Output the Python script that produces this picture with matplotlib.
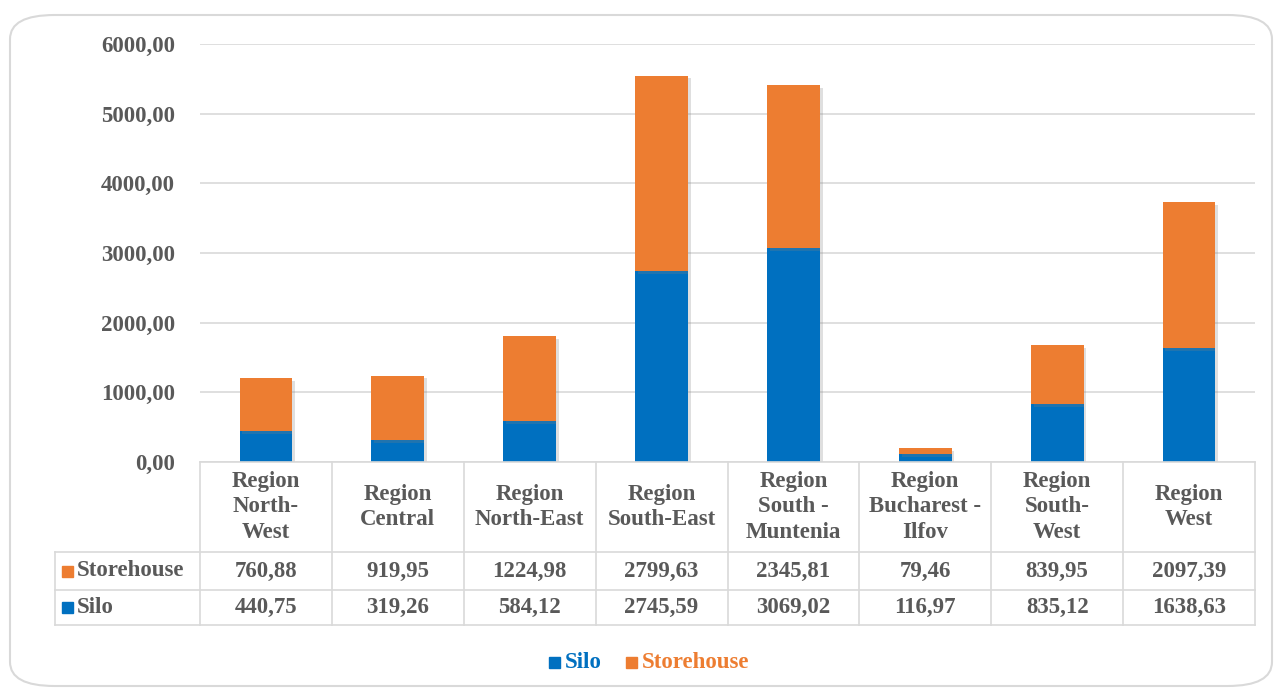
import matplotlib
matplotlib.use("Agg")
import matplotlib.pyplot as plt
import matplotlib.patheffects as pe
from matplotlib.lines import Line2D
from matplotlib.patches import FancyBboxPatch, Rectangle
from matplotlib.transforms import blended_transform_factory
import numpy as np

# data
regions = ["Region\nNorth-\nWest", "Region\nCentral", "Region\nNorth-East",
           "Region\nSouth-East", "Region\nSouth -\nMuntenia",
           "Region\nBucharest -\nIlfov", "Region\nSouth-\nWest", "Region\nWest"]
silo = [440.75, 319.26, 584.12, 2745.59, 3069.02, 116.97, 835.12, 1638.63]
storehouse = [760.88, 919.95, 1224.98, 2799.63, 2345.81, 79.46, 839.95, 2097.39]
yticks = [0, 1000, 2000, 3000, 4000, 5000, 6000]

BLUE = "#0070C0"
ORANGE = "#ED7D31"
TXT = "#595959"
GRID = "#D9D9D9"
W, H = 1274, 688

plt.rcParams['font.family'] = ['Liberation Serif', 'DejaVu Serif']
plt.rcParams['font.weight'] = 'bold'
FS = 16.5


def fx(x):
    return x / W


def fy(y):
    return 1 - y / H


def fmt(v):
    return f"{v:.2f}".replace('.', ',')


fig = plt.figure(figsize=(W / 100, H / 100), dpi=100)

# rounded outer border
fig.add_artist(FancyBboxPatch((fx(10), fy(686)), fx(1262), 671 / H,
                              boxstyle="round,pad=0,rounding_size=0.035",
                              transform=fig.transFigure, fill=False,
                              edgecolor=GRID, lw=1.5))

ax = fig.add_axes([fx(200), fy(462), fx(1055), 418 / H])
x = np.arange(len(regions))
shadow = [pe.SimplePatchShadow(offset=(2, -2), alpha=0.25, shadow_rgbFace='gray'), pe.Normal()]
b1 = ax.bar(x, silo, width=0.4, color=BLUE, zorder=3)
b2 = ax.bar(x, storehouse, width=0.4, bottom=silo, color=ORANGE, zorder=3)
for b in list(b1) + list(b2):
    b.set_path_effects(shadow)

ax.set_xlim(-0.5, len(regions) - 0.5)
ax.set_ylim(0, 6000)
ax.set_yticks(yticks)
ax.set_yticklabels([fmt(v) for v in yticks], color=TXT, fontsize=FS, fontweight='bold')
ax.tick_params(axis='y', length=0, pad=18)
ax.set_xticks([])
ax.grid(axis='y', color=GRID, lw=1.2, zorder=0)
for s in ax.spines.values():
    s.set_visible(False)

# data table below the axes
tr = blended_transform_factory(ax.transData, fig.transFigure)
ft = fig.transFigure
y_top, y_head, y_mid, y_bot = fy(462), fy(552), fy(590), fy(625)
left = fx(55)
lw = 1.2
# horizontal lines
fig.add_artist(Line2D([fx(200), fx(1255)], [y_top, y_top], color=GRID, lw=lw, transform=ft))
for yy in (y_head, y_mid, y_bot):
    fig.add_artist(Line2D([left, fx(1255)], [yy, yy], color=GRID, lw=lw, transform=ft))
fig.add_artist(Line2D([left, left], [y_head, y_bot], color=GRID, lw=lw, transform=ft))
for k in range(len(regions) + 1):
    xx = k - 0.5
    fig.add_artist(Line2D([xx, xx], [y_top, y_bot], color=GRID, lw=lw, transform=tr))

for i, lab in enumerate(regions):
    fig.text(i, (y_top + y_head) / 2, lab, transform=tr, ha='center', va='center',
             multialignment='center', linespacing=1.3, color=TXT, fontsize=FS, fontweight='bold')
    fig.text(i, (y_head + y_mid) / 2, fmt(storehouse[i]), transform=tr, ha='center',
             va='center', color=TXT, fontsize=FS, fontweight='bold')
    fig.text(i, (y_mid + y_bot) / 2, fmt(silo[i]), transform=tr, ha='center',
             va='center', color=TXT, fontsize=FS, fontweight='bold')

# row labels with colour keys
sq = 11
for name, col, yc in [("Storehouse", ORANGE, (y_head + y_mid) / 2), ("Silo", BLUE, (y_mid + y_bot) / 2)]:
    fig.add_artist(Rectangle((fx(62), yc - sq / 2 / H), sq / W, sq / H, color=col, transform=ft))
    fig.text(fx(77), yc, name, ha='left', va='center', color=TXT, fontsize=FS, fontweight='bold')

# legend
ly = fy(662)
for name, col, xs in [("Silo", BLUE, 549), ("Storehouse", ORANGE, 626)]:
    fig.add_artist(Rectangle((fx(xs), ly - sq / 2 / H), sq / W, sq / H, color=col, transform=ft))
    fig.text(fx(xs + 16), ly, name, ha='left', va='center', color=col, fontsize=FS, fontweight='bold')

fig.savefig("out.png", dpi=100)
